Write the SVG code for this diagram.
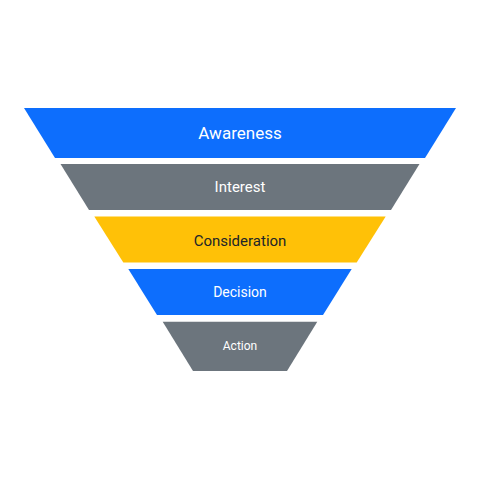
<svg xmlns="http://www.w3.org/2000/svg" width="480" height="480" viewBox="0 0 480 480">
<style>
.lbl{font-family:Roboto,"Liberation Sans",sans-serif;text-anchor:middle}
.blue{fill:#0d6efd}.gray{fill:#6c757d}.yellow{fill:#ffc107}
.lt{fill:#ffffff}.dk{fill:#212529}
</style>
<rect width="480" height="480" fill="#ffffff"/>
<g id="awareness">
<polygon class="blue" points="24,108 456,108 425,158 55,158"/>
<text class="lbl lt" x="240" y="139" font-size="17">Awareness</text>
</g>
<g id="interest">
<polygon class="gray" points="60.5,164 419.5,164 391,210 89,210"/>
<text class="lbl lt" x="240" y="192" font-size="15">Interest</text>
</g>
<g id="consideration">
<polygon class="yellow" points="94.3,216.5 385.7,216.5 356.7,262.5 123.3,262.5"/>
<text class="lbl dk" x="240" y="245.5" font-size="15">Consideration</text>
</g>
<g id="decision">
<polygon class="blue" points="128.3,269 351.7,269 323,315 157,315"/>
<text class="lbl lt" x="240" y="297.3" font-size="14">Decision</text>
</g>
<g id="action">
<polygon class="gray" points="162.7,321.7 317.3,321.7 287,371 193,371"/>
<text class="lbl lt" x="240" y="350" font-size="12">Action</text>
</g>
<g id="connectors"></g>
</svg>
